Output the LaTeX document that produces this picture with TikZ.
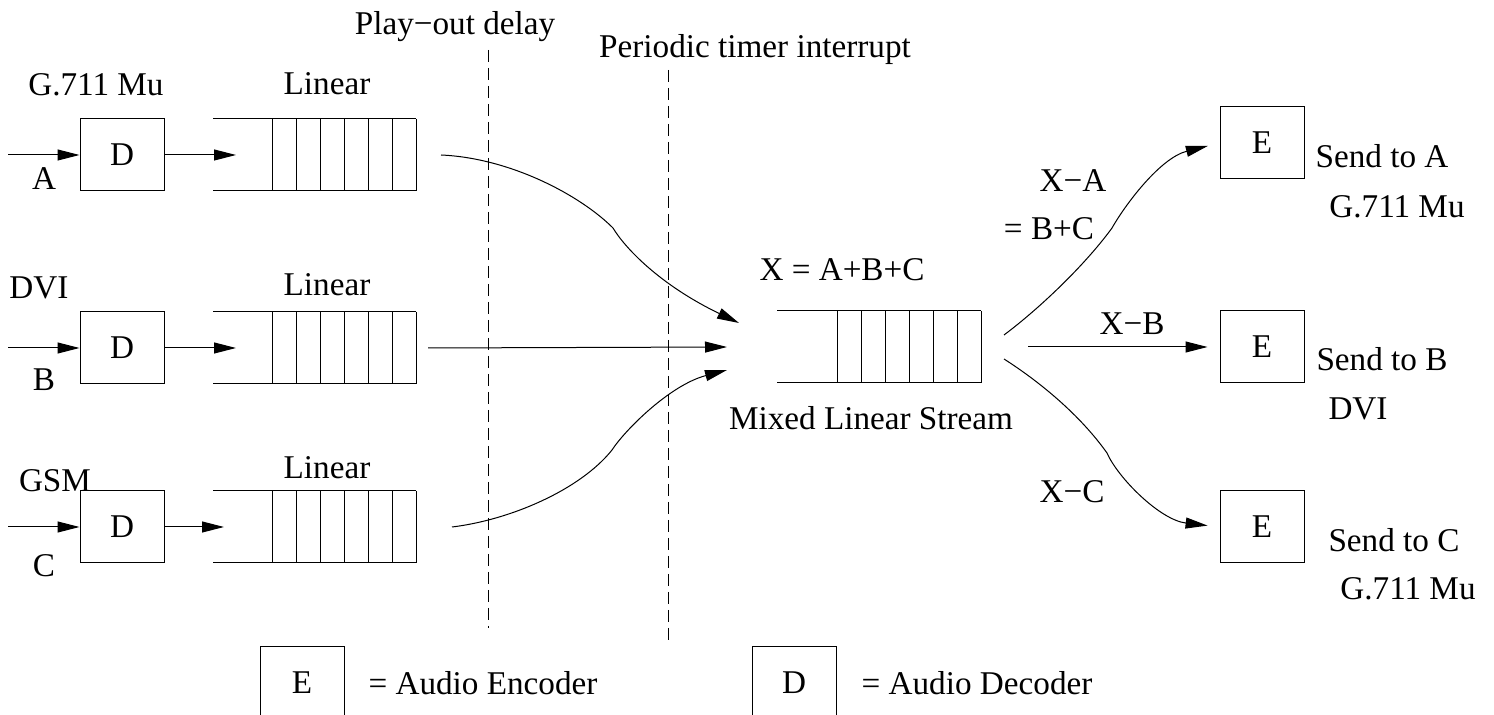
\documentclass[tikz,border=0pt]{standalone}
\usepackage{fontspec}
\setmainfont{Liberation Serif}
\usetikzlibrary{arrows.meta}
\tikzset{
  box/.style={draw,minimum width=42pt,minimum height=36pt,inner sep=0pt},
  lbl/.style={inner sep=0pt,text height=11pt,text depth=0pt},
  marker/.style={dash pattern=on 6pt off 3pt}
}
\begin{document}
\begin{tikzpicture}[x=0.5pt,y=-0.5pt,line width=0.5pt,
    font=\fontsize{16.6}{20}\selectfont,
    >={Triangle[length=11pt,width=5.5pt]}]
  \useasboundingbox (0,0) rectangle (1494,715);
  \foreach \n/\y/\e in {A/155/236,B/348/236,C/527/224}{
    \coordinate (in\n) at (8,\y);
    \coordinate (q\n) at (\e,\y);
    \node[box] (d\n) at (122,\y) {D};
    \draw[->] (in\n) -- (d\n);
    \draw[->] (d\n) -- (q\n);
    \draw (213,\y-36) -- (416,\y-36) (213,\y+36) -- (416,\y+36);
    \foreach \x in {272,296,...,416}
      \draw (\x,\y-36) -- (\x,\y+36);
  }
  \node[lbl] (codA) at (96,85) {G.711 Mu};
  \node[lbl] (linA) at (327,84) {Linear};
  \node[lbl] (srcA) at (44,179) {A};
  \node[lbl] (codB) at (39,288) {DVI};
  \node[lbl] (linB) at (327,285) {Linear};
  \node[lbl] (srcB) at (44,380) {B};
  \node[lbl] (codC) at (55,481) {GSM};
  \node[lbl] (linC) at (327,468) {Linear};
  \node[lbl] (srcC) at (44,566) {C};
  \node[lbl] (playout) at (455,24) {Play−out delay};
  \node[lbl] (timer) at (755,47) {Periodic timer interrupt};
  \draw[marker] (488,50) -- (488,628);
  \draw[marker] (668,70) -- (668,640);
  % mixed stream
  \draw (777,311) -- (981,311) (777,383) -- (981,383);
  \foreach \x in {837,861,...,981}
    \draw (\x,311) -- (\x,383);
  \node[lbl] (sum) at (842,270) {X = A+B+C};
  \node[lbl] (mixed) at (871,419) {Mixed Linear Stream};
  \coordinate (outA) at (441,155);
  \coordinate (outB) at (428,348);
  \coordinate (outC) at (452,527);
  \coordinate (mA) at (739,323);
  \coordinate (mB) at (727,347);
  \coordinate (mC) at (727,370);
  \draw[->] (outA) .. controls (510,158) and (580,195) .. (613,228)
    .. controls (625,248) and (660,285) .. (mA);
  \draw[->] (outB) -- (mB);
  \draw[->] (outC) .. controls (510,520) and (580,490) .. (612,450)
    .. controls (625,430) and (670,385) .. (mC);
  % encoders
  \node[box] (sA) at (1262,143) {E};
  \node[box] (sB) at (1262,347) {E};
  \node[box] (sC) at (1262,527) {E};
  \coordinate (xA) at (1004,335);
  \coordinate (xB) at (1028,347);
  \coordinate (xC) at (1004,359);
  \draw[->,shorten >=6pt] (xA) .. controls (1040,308) and (1085,265) .. (1112,228)
    .. controls (1125,205) and (1160,158) .. (sA.west);
  \draw[->,shorten >=6pt] (xB) -- (sB);
  \draw[->,shorten >=6pt] (xC) .. controls (1040,382) and (1080,415) .. (1107,453)
    .. controls (1118,478) and (1160,520) .. (sC.west);
  \node[lbl] (difA) at (1073,181) {X−A};
  \node[lbl] (eqA) at (1049,229) {= B+C};
  \node[lbl] (difB) at (1132,324) {X−B};
  \node[lbl] (difC) at (1072,492) {X−C};
  \node[lbl] (toA) at (1382,157) {Send to A};
  \node[lbl] (fmtA) at (1397,207) {G.711 Mu};
  \node[lbl] (toB) at (1382,360) {Send to B};
  \node[lbl] (fmtB) at (1358,409) {DVI};
  \node[lbl] (toC) at (1394,541) {Send to C};
  \node[lbl] (fmtC) at (1408,589) {G.711 Mu};
  % legend
  \node[box] (legE) at (302,683) {E};
  \node[lbl] (encoder) at (483,684) {= Audio Encoder};
  \node[box] (legD) at (794,683) {D};
  \node[lbl] (decoder) at (977,684) {= Audio Decoder};
\end{tikzpicture}
\end{document}
